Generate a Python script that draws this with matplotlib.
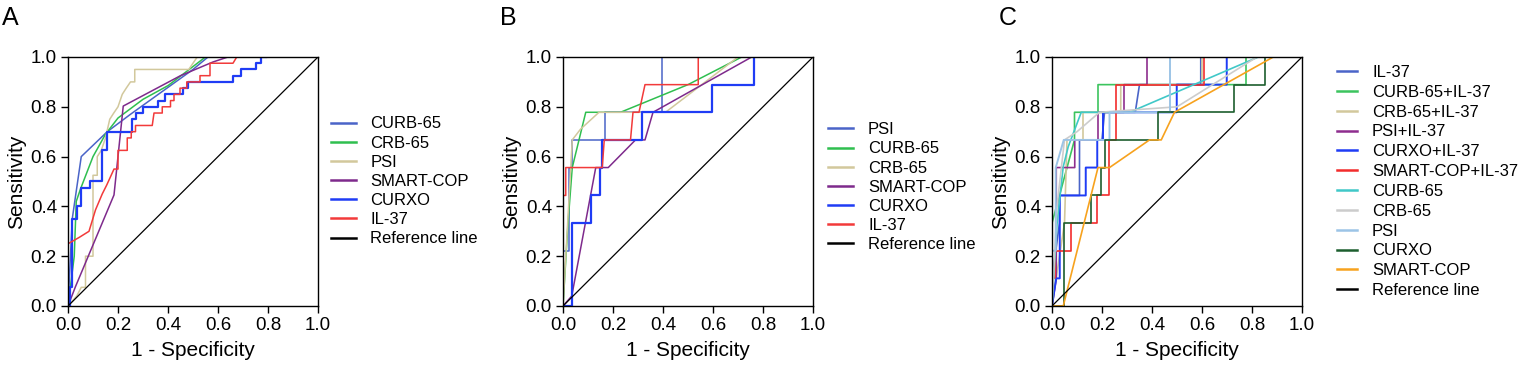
import matplotlib
matplotlib.use("Agg")
import matplotlib.pyplot as plt

plt.rcParams["font.family"] = ["Liberation Sans", "DejaVu Sans"]

# ---- panel A: ROC curves, derivation cohort -----------------------------------
a_labels = ["CURB-65", "CRB-65", "PSI", "SMART-COP", "CURXO", "IL-37"]
a_curb65_x = [0, 0.004, 0.017, 0.053, 0.157, 0.25, 0.5, 0.56]
a_curb65_y = [0, 0.08, 0.35, 0.60, 0.70, 0.77, 0.95, 1.0]
a_crb65_x = [0, 0.01, 0.025, 0.033, 0.05, 0.1, 0.15, 0.2, 0.3, 0.4, 0.55]
a_crb65_y = [0, 0.08, 0.2, 0.42, 0.47, 0.6, 0.69, 0.755, 0.83, 0.885, 1.0]
a_psi_x = [0, 0.035, 0.053, 0.07, 0.07, 0.1, 0.1, 0.117, 0.117, 0.133, 0.15, 0.167,
           0.183, 0.2, 0.217, 0.233, 0.25, 0.267, 0.267, 0.483, 0.5, 0.5, 0.517]
a_psi_y = [0, 0.04, 0.075, 0.075, 0.2, 0.2, 0.525, 0.525, 0.6, 0.625, 0.675, 0.75,
           0.775, 0.8, 0.85, 0.875, 0.9, 0.9, 0.95, 0.95, 0.975, 0.975, 1.0]
a_smart_x = [0, 0.03, 0.184, 0.221, 0.45, 0.58, 0.64]
a_smart_y = [0, 0.078, 0.446, 0.803, 0.925, 0.98, 1.0]
a_curxo_x = [0, 0.007, 0.007, 0.017, 0.017, 0.036, 0.036, 0.053, 0.053, 0.087, 0.087,
             0.137, 0.137, 0.155, 0.155, 0.257, 0.257, 0.273, 0.273, 0.3, 0.3, 0.36,
             0.36, 0.387, 0.387, 0.46, 0.46, 0.48, 0.48, 0.66, 0.66, 0.69, 0.69,
             0.753, 0.753, 0.773, 0.773, 0.79]
a_curxo_y = [0, 0, 0.075, 0.075, 0.35, 0.35, 0.4, 0.4, 0.475, 0.475, 0.5,
             0.5, 0.625, 0.625, 0.7, 0.7, 0.75, 0.75, 0.775, 0.775, 0.8, 0.8,
             0.825, 0.825, 0.85, 0.85, 0.875, 0.875, 0.9, 0.9, 0.925, 0.925, 0.95,
             0.95, 0.975, 0.975, 1.0, 1.0]
a_il37_x = [0, 0, 0.044, 0.084, 0.11, 0.137, 0.155, 0.184, 0.2, 0.2, 0.237, 0.237,
            0.253, 0.253, 0.27, 0.27, 0.337, 0.344, 0.377, 0.377, 0.41, 0.41, 0.424,
            0.424, 0.448, 0.448, 0.475, 0.475, 0.528, 0.528, 0.568, 0.568, 0.66, 0.675]
a_il37_y = [0, 0.25, 0.275, 0.3, 0.386, 0.45, 0.486, 0.55, 0.55, 0.625, 0.625, 0.675,
            0.675, 0.7, 0.7, 0.725, 0.725, 0.775, 0.775, 0.8, 0.8, 0.825, 0.825,
            0.85, 0.85, 0.875, 0.875, 0.9, 0.9, 0.925, 0.925, 0.975, 0.975, 1.0]

# ---- panel B: validation cohort -----------------------------------------------
b_labels = ["PSI", "CURB-65", "CRB-65", "SMART-COP", "CURXO", "IL-37"]
b_psi_x = [0, 0, 0.024, 0.024, 0.035, 0.035, 0.168, 0.168, 0.395, 0.395, 1.0]
b_psi_y = [0, 0.222, 0.222, 0.556, 0.556, 0.667, 0.667, 0.778, 0.778, 1.0, 1.0]
b_curb65_x = [0, 0.02, 0.037, 0.091, 0.23, 0.5, 0.715]
b_curb65_y = [0, 0.333, 0.556, 0.778, 0.778, 0.889, 1.0]
b_crb65_x = [0, 0.031, 0.037, 0.07, 0.144, 0.41, 0.70]
b_crb65_y = [0, 0.556, 0.667, 0.71, 0.778, 0.778, 1.0]
b_smart_x = [0, 0.035, 0.131, 0.181, 0.29, 0.328, 0.36, 0.755]
b_smart_y = [0, 0.04, 0.556, 0.556, 0.667, 0.667, 0.778, 1.0]
b_curxo_x = [0, 0.035, 0.035, 0.113, 0.113, 0.147, 0.147, 0.157, 0.157, 0.315, 0.315,
             0.595, 0.595, 0.762, 0.762]
b_curxo_y = [0, 0, 0.333, 0.333, 0.444, 0.444, 0.556, 0.556, 0.667, 0.667, 0.778,
             0.778, 0.889, 0.889, 1.0]
b_il37_x = [0, 0, 0.011, 0.011, 0.157, 0.165, 0.27, 0.28, 0.304, 0.328, 0.541, 0.541, 1.0]
b_il37_y = [0, 0.444, 0.444, 0.556, 0.556, 0.667, 0.667, 0.778, 0.778, 0.889, 0.889, 1.0, 1.0]

# ---- panel C: combinations with IL-37 -----------------------------------------
c_labels = ["IL-37", "CURB-65+IL-37", "CRB-65+IL-37", "PSI+IL-37", "CURXO+IL-37",
            "SMART-COP+IL-37", "CURB-65", "CRB-65", "PSI", "CURXO", "SMART-COP"]
c_il37_x = [0, 0, 0.03, 0.03, 0.11, 0.11, 0.2, 0.21, 0.333, 0.35, 0.595, 0.595]
c_il37_y = [0, 0.111, 0.333, 0.444, 0.444, 0.667, 0.667, 0.778, 0.778, 0.889, 0.889, 1.0]
c_curb65il_x = [0, 0, 0.09, 0.09, 0.184, 0.184, 0.776, 0.776]
c_curb65il_y = [0, 0.333, 0.667, 0.778, 0.778, 0.889, 0.889, 1.0]
c_crb65il_x = [0, 0.05, 0.06, 0.124, 0.124, 0.275, 0.275, 0.6, 0.6]
c_crb65il_y = [0, 0.333, 0.667, 0.667, 0.778, 0.778, 0.889, 0.889, 1.0]
c_psiil_x = [0, 0.017, 0.017, 0.091, 0.091, 0.184, 0.184, 0.288, 0.288, 0.38, 0.38]
c_psiil_y = [0, 0.111, 0.556, 0.556, 0.667, 0.667, 0.778, 0.778, 0.889, 0.889, 1.0]
c_curxoil_x = [0, 0.017, 0.031, 0.031, 0.135, 0.135, 0.181, 0.181, 0.204, 0.204, 0.499,
               0.499, 0.699, 0.699]
c_curxoil_y = [0, 0.111, 0.111, 0.444, 0.444, 0.556, 0.556, 0.667, 0.667, 0.778, 0.778,
               0.889, 0.889, 1.0]
c_smartil_x = [0, 0, 0.011, 0.011, 0.077, 0.077, 0.181, 0.181, 0.228, 0.228, 0.257, 0.257,
               0.609, 0.609]
c_smartil_y = [0, 0.111, 0.111, 0.222, 0.222, 0.333, 0.333, 0.444, 0.444, 0.667, 0.667,
               0.889, 0.889, 1.0]
c_curb65_x = [0, 0.02, 0.045, 0.065, 0.117, 0.31, 0.825]
c_curb65_y = [0, 0.33, 0.56, 0.64, 0.778, 0.778, 1.0]
c_crb65_x = [0, 0.02, 0.05, 0.1, 0.19, 0.5, 0.82]
c_crb65_y = [0, 0.4, 0.667, 0.7, 0.778, 0.8, 1.0]
c_psi_x = [0, 0, 0.015, 0.015, 0.047, 0.23, 0.23, 0.472, 0.472]
c_psi_y = [0, 0.222, 0.222, 0.556, 0.667, 0.667, 0.778, 0.778, 1.0]
c_curxo_x = [0, 0.047, 0.047, 0.155, 0.155, 0.197, 0.197, 0.213, 0.213, 0.424, 0.424,
             0.728, 0.728, 0.852, 0.852]
c_curxo_y = [0, 0, 0.333, 0.333, 0.444, 0.444, 0.556, 0.556, 0.667, 0.667, 0.778,
             0.778, 0.889, 0.889, 1.0]
c_smart_x = [0, 0.045, 0.184, 0.23, 0.39, 0.437, 0.49, 0.885]
c_smart_y = [0, 0, 0.556, 0.556, 0.667, 0.667, 0.778, 1.0]

# colours
blue_mid = "#4a64c8"
green = "#2fbf4f"
tan = "#d2c89c"
purple = "#7e2a8c"
blue = "#1f3cf5"
red = "#f23a3a"


def style_axes(ax):
    ax.set_xlim(0, 1)
    ax.set_ylim(0, 1)
    ax.set_xticks([0, 0.2, 0.4, 0.6, 0.8, 1.0])
    ax.set_yticks([0, 0.2, 0.4, 0.6, 0.8, 1.0])
    ax.xaxis.set_major_formatter(matplotlib.ticker.FormatStrFormatter("%.1f"))
    ax.yaxis.set_major_formatter(matplotlib.ticker.FormatStrFormatter("%.1f"))
    ax.tick_params(labelsize=13.5, length=5, width=1, pad=3)
    for s in ax.spines.values():
        s.set_linewidth(1.0)
    ax.set_xlabel("1 - Specificity", fontsize=15, labelpad=5)
    ax.set_ylabel("Sensitivity", fontsize=15, labelpad=3)
    ax.plot([0, 1], [0, 1], color="black", lw=0.9, label="Reference line")


def add_legend(ax, anchor, hlen, spacing=0.25):
    leg = ax.legend(loc="center left", bbox_to_anchor=anchor, frameon=False, fontsize=12,
                    handlelength=hlen, handletextpad=0.9, labelspacing=spacing,
                    borderpad=0, borderaxespad=0)
    for line in leg.get_lines():
        line.set_linewidth(1.8)


fig = plt.figure(figsize=(15.2, 3.71), dpi=100)
bottom, height = 65 / 371, 249 / 371
width = 250 / 1520

# panel A
ax = fig.add_axes([68 / 1520, bottom, width, height])
ax.plot(a_curb65_x, a_curb65_y, color=blue_mid, lw=1.1, label=a_labels[0])
ax.plot(a_crb65_x, a_crb65_y, color=green, lw=1.1, label=a_labels[1])
ax.plot(a_psi_x, a_psi_y, color=tan, lw=1.1, label=a_labels[2])
ax.plot(a_smart_x, a_smart_y, color=purple, lw=1.1, label=a_labels[3])
ax.plot(a_curxo_x, a_curxo_y, color=blue, lw=1.6, label=a_labels[4])
ax.plot(a_il37_x, a_il37_y, color=red, lw=1.1, label=a_labels[5])
style_axes(ax)
add_legend(ax, (1.05, 0.5), 1.5)

# panel B
ax = fig.add_axes([563 / 1520, bottom, width, height])
ax.plot(b_psi_x, b_psi_y, color=blue_mid, lw=1.1, label=b_labels[0])
ax.plot(b_curb65_x, b_curb65_y, color=green, lw=1.1, label=b_labels[1])
ax.plot(b_crb65_x, b_crb65_y, color=tan, lw=1.1, label=b_labels[2])
ax.plot(b_smart_x, b_smart_y, color=purple, lw=1.1, label=b_labels[3])
ax.plot(b_curxo_x, b_curxo_y, color=blue, lw=1.6, label=b_labels[4])
ax.plot(b_il37_x, b_il37_y, color=red, lw=1.1, label=b_labels[5])
style_axes(ax)
add_legend(ax, (1.06, 0.477), 1.5)

# panel C
ax = fig.add_axes([1052 / 1520, bottom, width, height])
c_series = [
    (c_il37_x, c_il37_y, blue_mid, 1.2),
    (c_curb65il_x, c_curb65il_y, "#3cc45e", 1.2),
    (c_crb65il_x, c_crb65il_y, tan, 1.2),
    (c_psiil_x, c_psiil_y, "#8e2d8e", 1.2),
    (c_curxoil_x, c_curxoil_y, blue, 1.4),
    (c_smartil_x, c_smartil_y, "#f22c2c", 1.2),
    (c_curb65_x, c_curb65_y, "#40c8c8", 1.2),
    (c_crb65_x, c_crb65_y, "#cccccc", 1.2),
    (c_psi_x, c_psi_y, "#9cc4e6", 1.4),
    (c_curxo_x, c_curxo_y, "#1c5e2e", 1.2),
    (c_smart_x, c_smart_y, "#f7a21e", 1.2),
]
for (xs, ys, col, lw), lab in zip(c_series, c_labels):
    ax.plot(xs, ys, color=col, lw=lw, label=lab)
style_axes(ax)
add_legend(ax, (1.14, 0.5), 1.2, spacing=0.29)

for xpos, letter in [(2, "A"), (500, "B"), (999, "C")]:
    fig.text(xpos / 1520, 1 - 6 / 371, letter, fontsize=18, va="top", ha="left")

fig.savefig("out.png", dpi=100)
